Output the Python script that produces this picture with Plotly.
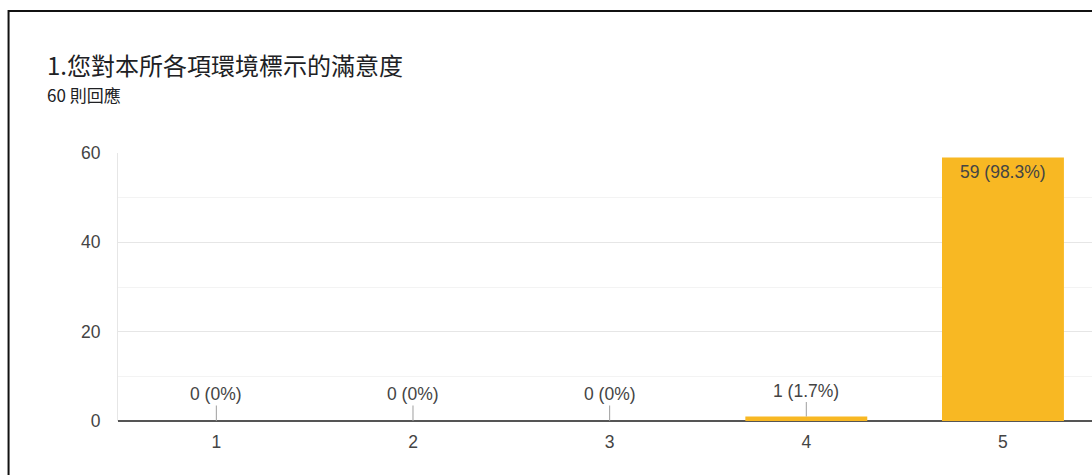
import plotly.graph_objects as go

# ---- data ----
title_text = "1.您對本所各項環境標示的滿意度"
subtitle_text = "60 則回應"
categories = ["1", "2", "3", "4", "5"]
counts = [0, 0, 0, 1, 59]
y_ticks = [0, 20, 40, 60]

total = sum(counts)

def pct_label(c):
    p = c / total * 100
    if abs(p - round(p)) < 1e-9:
        return f"{c} ({int(round(p))}%)"
    return f"{c} ({p:.1f}%)"

labels = [pct_label(c) for c in counts]

# ---- layout constants (reference pixels) ----
W, H = 1092, 475
PLOT_LEFT, PLOT_TOP, PLOT_BOTTOM = 117.5, 153, 421
L = PLOT_LEFT
T = PLOT_TOP
B = H - PLOT_BOTTOM
R = 0
plot_w = W - L - R
plot_h = H - T - B
cat_step = (1101.4 - 117.6) / 5

def px_x(px):
    return (px - L) / plot_w

def px_y(py):
    return (PLOT_BOTTOM - py) / plot_h

BAR_COLOR = "#F8B823"
TEXT_COLOR = "#444444"
FONT = "Liberation Sans, Arial, sans-serif"
CJK = "Noto Sans CJK TC, sans-serif"

fig = go.Figure()
fig.add_trace(go.Bar(
    x=list(range(len(categories))), y=counts,
    marker=dict(color=BAR_COLOR, line=dict(width=0)),
    hoverinfo="skip",
))

annotations = []
ymax = max(y_ticks)
for i, (c, lab) in enumerate(zip(counts, labels)):
    if c > ymax * 0.2:
        annotations.append(dict(
            x=i, y=c, xref="x", yref="y", text=lab, showarrow=False,
            yanchor="top", yshift=-3,
            font=dict(family=FONT, size=17.5, color=TEXT_COLOR),
        ))
    else:
        annotations.append(dict(
            x=i, y=c, xref="x", yref="y", text=lab, showarrow=True,
            arrowhead=0, arrowwidth=1, arrowcolor="#9e9e9e",
            ax=0, ay=-27 if c == 0 else -26, standoff=0,
            font=dict(family=FONT, size=17.5, color=TEXT_COLOR),
        ))

annotations.append(dict(
    x=px_x(44), y=px_y(65), xref="paper", yref="paper", text=title_text,
    showarrow=False, xanchor="left", yanchor="middle",
    font=dict(family=CJK, size=24, color="#202124"),
))
annotations.append(dict(
    x=px_x(44), y=px_y(95), xref="paper", yref="paper", text=subtitle_text,
    showarrow=False, xanchor="left", yanchor="middle",
    font=dict(family=CJK, size=17, color="#202124"),
))

shapes = [dict(
    type="rect", xref="paper", yref="paper",
    x0=px_x(8), x1=px_x(W + 60), y0=px_y(H + 60), y1=px_y(11),
    line=dict(color="#111111", width=2), fillcolor="rgba(0,0,0,0)", layer="above",
)]

fig.update_layout(
    width=W, height=H,
    margin=dict(l=L, r=R, t=T, b=B, pad=0),
    paper_bgcolor="white", plot_bgcolor="white",
    showlegend=False,
    bargap=0.38,
    annotations=annotations,
    shapes=shapes,
    xaxis=dict(
        range=[-0.5, -0.5 + plot_w / cat_step],
        tickvals=list(range(len(categories))), ticktext=categories,
        showgrid=False, showline=False, zeroline=False, ticks="",
        tickfont=dict(family=FONT, size=17.5, color=TEXT_COLOR),
        ticklabelstandoff=8,
    ),
    yaxis=dict(
        range=[0, ymax], tickvals=y_ticks,
        showgrid=True, gridcolor="#e6e6e6", gridwidth=1,
        minor=dict(dtick=10, showgrid=True, gridcolor="#f3f3f3", gridwidth=1),
        zeroline=True, zerolinecolor="#555555", zerolinewidth=1.5,
        showline=True, linecolor="#e6e6e6", linewidth=1,
        ticks="", tickfont=dict(family=FONT, size=17.5, color=TEXT_COLOR),
        ticklabelstandoff=13,
    ),
)

fig.write_html(
    "out.html",
    config={"displayModeBar": False},
    post_script="document.body.style.margin='0';document.body.style.overflow='hidden';",
)
